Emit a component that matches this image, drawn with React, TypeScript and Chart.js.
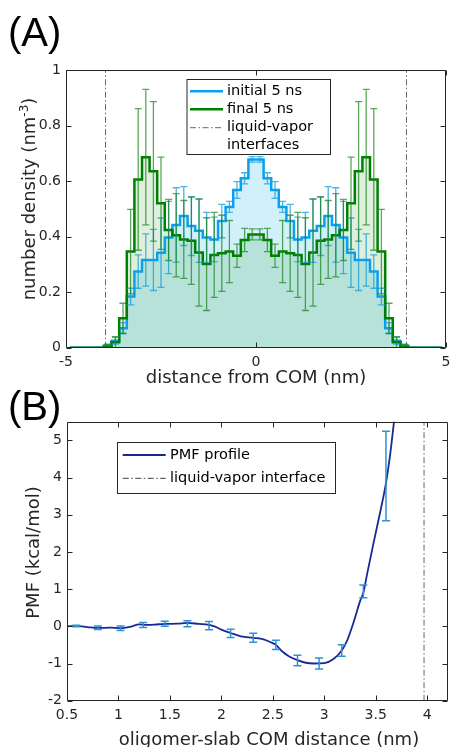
import React, { useEffect, useRef } from 'react';
import { Chart, registerables } from 'chart.js';

Chart.register(...registerables);

// ---------------- Panel A: number density profiles ----------------
const binCenters = [
  -4.9, -4.7, -4.5, -4.3, -4.1, -3.9, -3.7, -3.5, -3.3, -3.1, -2.9, -2.7, -2.5, -2.3, -2.1, -1.9, -1.7, -1.5, -1.3, -1.1, -0.9, -0.7, -0.5, -0.3, -0.1,
  0.1, 0.3, 0.5, 0.7, 0.9, 1.1, 1.3, 1.5, 1.7, 1.9, 2.1, 2.3, 2.5, 2.7, 2.9, 3.1, 3.3, 3.5, 3.7, 3.9, 4.1, 4.3, 4.5, 4.7, 4.9,
];
const initialDensity = [
  0, 0, 0, 0, 0, 0.005, 0.025, 0.07, 0.184, 0.274, 0.316, 0.316, 0.342, 0.397, 0.442, 0.474, 0.438, 0.421, 0.397, 0.39, 0.456, 0.507, 0.568, 0.61, 0.678,
  0.678, 0.61, 0.568, 0.507, 0.456, 0.39, 0.397, 0.421, 0.438, 0.474, 0.442, 0.397, 0.342, 0.316, 0.316, 0.274, 0.184, 0.07, 0.025, 0.005, 0, 0, 0, 0, 0,
];
const finalDensity = [
  0, 0, 0, 0, 0, 0.007, 0.02, 0.106, 0.346, 0.606, 0.686, 0.635, 0.52, 0.424, 0.405, 0.39, 0.385, 0.343, 0.301, 0.334, 0.34, 0.346, 0.331, 0.388, 0.408,
  0.408, 0.388, 0.331, 0.346, 0.34, 0.334, 0.301, 0.343, 0.385, 0.39, 0.405, 0.424, 0.52, 0.635, 0.686, 0.606, 0.346, 0.106, 0.02, 0.007, 0, 0, 0, 0, 0,
];
const initialError = [
  0, 0, 0, 0, 0, 0.005, 0.012, 0.02, 0.03, 0.06, 0.094, 0.11, 0.125, 0.13, 0.134, 0.106, 0.106, 0.114, 0.09, 0.08, 0.06, 0.02, 0.03, 0.02, 0.01,
  0.01, 0.02, 0.03, 0.02, 0.06, 0.08, 0.09, 0.114, 0.106, 0.106, 0.134, 0.13, 0.125, 0.11, 0.094, 0.06, 0.03, 0.02, 0.012, 0.005, 0, 0, 0, 0, 0,
];
const finalError = [
  0, 0, 0, 0, 0, 0.006, 0.02, 0.054, 0.152, 0.255, 0.244, 0.251, 0.166, 0.11, 0.15, 0.14, 0.157, 0.193, 0.167, 0.153, 0.137, 0.112, 0.042, 0.042, 0.02,
  0.02, 0.042, 0.042, 0.112, 0.137, 0.153, 0.167, 0.193, 0.157, 0.14, 0.15, 0.11, 0.166, 0.251, 0.244, 0.255, 0.152, 0.054, 0.02, 0.006, 0, 0, 0, 0, 0,
];
const interfacePositionsA = [-3.96, 3.96];
const densityRangeX = [-5, 5];
const densityRangeY = [0, 1];

// ---------------- Panel B: PMF profile ----------------
const pmfDistance = [
  0.5, 0.59, 0.7, 0.8, 0.92, 1.02, 1.12, 1.2, 1.27, 1.35, 1.45, 1.57, 1.67, 1.78, 1.88, 1.94, 2.0, 2.09, 2.19, 2.31, 2.41,
  2.48, 2.53, 2.59, 2.66, 2.74, 2.82, 2.9, 3.0, 3.09, 3.17, 3.22, 3.29, 3.35, 3.38, 3.42, 3.48, 3.55, 3.6, 3.64, 3.68, 3.72,
];
const pmfValue = [
  0.0, 0.01, -0.02, -0.045, -0.035, -0.05, -0.01, 0.05, 0.04, 0.045, 0.065, 0.07, 0.09, 0.065, 0.04, -0.01, -0.09, -0.18, -0.27, -0.31, -0.35,
  -0.43, -0.5, -0.67, -0.81, -0.91, -0.98, -1.0, -0.99, -0.88, -0.65, -0.4, 0.15, 0.69, 0.9, 1.45, 2.25, 3.15, 3.85, 4.6, 5.55, 6.6,
];
const pmfSampleDistance = [0.59, 0.8, 1.02, 1.24, 1.45, 1.67, 1.88, 2.09, 2.31, 2.53, 2.74, 2.95, 3.17, 3.38, 3.6];
const pmfSampleValue = [0.01, -0.04, -0.05, 0.035, 0.067, 0.07, 0.02, -0.19, -0.31, -0.5, -0.92, -1.0, -0.65, 0.94, 4.04];
const pmfSampleError = [0.02, 0.045, 0.06, 0.065, 0.067, 0.08, 0.11, 0.11, 0.12, 0.125, 0.14, 0.15, 0.155, 0.17, 1.2];
const interfacePositionB = 3.97;
const pmfRangeX = [0.5, 4.2];
const pmfRangeY = [-2, 5.5];

// ---------------- styling ----------------
const FONT = "'DejaVu Sans', 'Verdana', sans-serif";
const AXIS_COLOR = '#262626';
const BLUE = 'rgb(10,160,240)';
const GREEN = 'rgb(0,128,0)';
const DASH = [6, 2.5, 1.5, 2.5];

function fmt(v: any) {
  return String(Number(Number(v).toFixed(2)));
}

function axis(min: number, max: number, step: number, size: number, isX: boolean, pad: number) {
  return {
    type: 'linear',
    min,
    max,
    grid: { display: false, drawTicks: false },
    border: { display: false },
    ticks: {
      stepSize: step,
      includeBounds: false,
      padding: pad,
      color: AXIS_COLOR,
      font: { family: FONT, size: 14 },
      callback: fmt,
      maxRotation: 0,
      autoSkip: false,
    },
    afterFit: (s: any) => {
      if (isX) s.height = size;
      else s.width = size;
      s.paddingLeft = 0;
      s.paddingRight = 0;
      s.paddingTop = 0;
      s.paddingBottom = 0;
    },
  };
}

function framePlugin(tickLen: number) {
  return {
    id: 'frame',
    afterDatasetsDraw(chart: any) {
      const { ctx, chartArea: a, scales } = chart;
      const x = scales.x;
      const y = scales.y;
      ctx.save();
      ctx.strokeStyle = AXIS_COLOR;
      ctx.lineWidth = 1;
      const L = Math.round(a.left) + 0.5;
      const R = Math.round(a.right) - 0.5;
      const T = Math.round(a.top) + 0.5;
      const B = Math.round(a.bottom) - 0.5;
      ctx.beginPath();
      ctx.rect(L, T, R - L, B - T);
      x.ticks.forEach((t: any) => {
        const p = Math.round(x.getPixelForValue(t.value)) + 0.5;
        ctx.moveTo(p, B);
        ctx.lineTo(p, B - tickLen);
        ctx.moveTo(p, T);
        ctx.lineTo(p, T + tickLen);
      });
      y.ticks.forEach((t: any) => {
        const p = Math.round(y.getPixelForValue(t.value)) + 0.5;
        ctx.moveTo(L, p);
        ctx.lineTo(L + tickLen, p);
        ctx.moveTo(R, p);
        ctx.lineTo(R - tickLen, p);
      });
      ctx.stroke();
      ctx.restore();
    },
  };
}

type ErrSet = { xs: number[]; ys: number[]; errs: number[]; color: string; width: number; cap: number };
function errorBarPlugin(sets: ErrSet[]) {
  return {
    id: 'errorBars',
    afterDatasetsDraw(chart: any) {
      const { ctx, chartArea: a, scales } = chart;
      const x = scales.x;
      const y = scales.y;
      ctx.save();
      ctx.beginPath();
      ctx.rect(a.left, a.top, a.right - a.left, a.bottom - a.top);
      ctx.clip();
      sets.forEach((s) => {
        ctx.strokeStyle = s.color;
        ctx.lineWidth = s.width;
        ctx.beginPath();
        s.xs.forEach((xv, i) => {
          const e = s.errs[i];
          if (!e) return;
          const px = x.getPixelForValue(xv);
          const top = y.getPixelForValue(s.ys[i] + e);
          const bot = y.getPixelForValue(s.ys[i] - e);
          ctx.moveTo(px, top);
          ctx.lineTo(px, bot);
          ctx.moveTo(px - s.cap, top);
          ctx.lineTo(px + s.cap, top);
          ctx.moveTo(px - s.cap, bot);
          ctx.lineTo(px + s.cap, bot);
        });
        ctx.stroke();
      });
      ctx.restore();
    },
  };
}

type LegendItem = { label: string[]; color: string; width: number; dash?: number[] };
type LegendCfg = {
  x: number; y: number; w: number; h: number;
  rows: number[]; lineX0: number; lineX1: number; textX: number; lineGap: number;
  items: LegendItem[];
};
function legendPlugin(cfg: LegendCfg) {
  return {
    id: 'boxLegend',
    afterDraw(chart: any) {
      const ctx = chart.ctx;
      ctx.save();
      ctx.fillStyle = '#fff';
      ctx.fillRect(cfg.x, cfg.y, cfg.w, cfg.h);
      ctx.strokeStyle = '#262626';
      ctx.lineWidth = 1;
      ctx.strokeRect(cfg.x + 0.5, cfg.y + 0.5, cfg.w, cfg.h);
      ctx.font = `14.5px ${FONT}`;
      ctx.textBaseline = 'middle';
      ctx.textAlign = 'left';
      cfg.items.forEach((it, i) => {
        const yy = cfg.rows[i];
        ctx.strokeStyle = it.color;
        ctx.lineWidth = it.width;
        ctx.setLineDash(it.dash || []);
        ctx.beginPath();
        ctx.moveTo(cfg.lineX0, yy);
        ctx.lineTo(cfg.lineX1, yy);
        ctx.stroke();
        ctx.setLineDash([]);
        ctx.fillStyle = '#000';
        it.label.forEach((t, j) => ctx.fillText(t, cfg.textX, yy + j * cfg.lineGap));
      });
      ctx.restore();
    },
  };
}

type TitleCfg = {
  panel: string; panelX: number; panelY: number;
  xTitle: string; xTitleX: number; xTitleY: number;
  yTitle: string; ySup?: string; yTail?: string; yTitleX: number; yTitleY: number;
};
function titlePlugin(cfg: TitleCfg) {
  return {
    id: 'titles',
    afterDraw(chart: any) {
      const ctx = chart.ctx;
      ctx.save();
      ctx.fillStyle = '#000';
      ctx.textBaseline = 'alphabetic';
      ctx.font = `40px 'Liberation Sans', Arial, sans-serif`;
      ctx.textAlign = 'left';
      ctx.fillText(cfg.panel, cfg.panelX, cfg.panelY);

      ctx.fillStyle = AXIS_COLOR;
      ctx.font = `18px ${FONT}`;
      ctx.textAlign = 'center';
      ctx.fillText(cfg.xTitle, cfg.xTitleX, cfg.xTitleY);

      ctx.translate(cfg.yTitleX, cfg.yTitleY);
      ctx.rotate(-Math.PI / 2);
      ctx.textAlign = 'left';
      const mainFont = `18px ${FONT}`;
      const supFont = `12px ${FONT}`;
      ctx.font = mainFont;
      const w1 = ctx.measureText(cfg.yTitle).width;
      const w3 = cfg.yTail ? ctx.measureText(cfg.yTail).width : 0;
      ctx.font = supFont;
      const w2 = cfg.ySup ? ctx.measureText(cfg.ySup).width : 0;
      const total = w1 + w2 + w3;
      let cx = -total / 2;
      ctx.font = mainFont;
      ctx.fillText(cfg.yTitle, cx, 0);
      cx += w1;
      if (cfg.ySup) {
        ctx.font = supFont;
        ctx.fillText(cfg.ySup, cx, -7);
        cx += w2;
      }
      if (cfg.yTail) {
        ctx.font = mainFont;
        ctx.fillText(cfg.yTail, cx, 0);
      }
      ctx.restore();
    },
  };
}

function configA(): any {
  const pts = (vals: number[]) => binCenters.map((c, i) => ({ x: c, y: vals[i] }));
  const ifaceSets = interfacePositionsA.map((xv) => ({
    data: [{ x: xv, y: densityRangeY[0] }, { x: xv, y: densityRangeY[1] }],
    borderColor: '#666',
    borderWidth: 1,
    borderDash: DASH,
    pointRadius: 0,
    fill: false,
    order: 3,
  }));
  return {
    type: 'line',
    data: {
      datasets: [
        {
          label: 'initial 5 ns',
          data: pts(initialDensity),
          stepped: 'middle',
          borderColor: BLUE,
          borderWidth: 2.5,
          backgroundColor: 'rgba(0,170,230,0.18)',
          fill: 'origin',
          pointRadius: 0,
          order: 1,
        },
        {
          label: 'final 5 ns',
          data: pts(finalDensity),
          stepped: 'middle',
          borderColor: GREEN,
          borderWidth: 2.5,
          backgroundColor: 'rgba(0,128,0,0.13)',
          fill: 'origin',
          pointRadius: 0,
          order: 0,
        },
        ...ifaceSets,
      ],
    },
    options: {
      responsive: false,
      animation: false,
      layout: { padding: { top: 70, right: 5, left: 0, bottom: 0 } },
      plugins: {
        legend: { display: false },
        tooltip: { enabled: false },
        filler: { drawTime: 'beforeDatasetsDraw' },
      },
      scales: {
        x: axis(densityRangeX[0], densityRangeX[1], 5, 47.3, true, 6),
        y: axis(densityRangeY[0], densityRangeY[1], 0.2, 66, false, 5),
      },
    },
    plugins: [
      errorBarPlugin([
        { xs: binCenters, ys: initialDensity, errs: initialError, color: 'rgba(30,160,215,0.8)', width: 1.3, cap: 3.5 },
        { xs: binCenters, ys: finalDensity, errs: finalError, color: 'rgba(20,130,20,0.7)', width: 1.3, cap: 3.5 },
      ]),
      framePlugin(5),
      legendPlugin({
        x: 186.5, y: 79, w: 143.5, h: 75,
        rows: [91.3, 109.3, 127.7], lineX0: 190, lineX1: 223, textX: 227, lineGap: 18,
        items: [
          { label: ['initial 5 ns'], color: BLUE, width: 2.5 },
          { label: ['final 5 ns'], color: GREEN, width: 2.5 },
          { label: ['liquid-vapor', 'interfaces'], color: '#666', width: 1, dash: DASH },
        ],
      }),
      titlePlugin({
        panel: '(A)', panelX: 8, panelY: 46,
        xTitle: 'distance from COM (nm)', xTitleX: 256, xTitleY: 382.5,
        yTitle: 'number density (nm', ySup: '-3', yTail: ')', yTitleX: 35, yTitleY: 199,
      }),
    ],
  };
}

function configB(): any {
  return {
    type: 'line',
    data: {
      datasets: [
        {
          label: 'PMF profile',
          data: pmfDistance.map((d, i) => ({ x: d, y: pmfValue[i] })),
          borderColor: 'rgb(22,42,150)',
          borderWidth: 1.8,
          cubicInterpolationMode: 'monotone',
          pointRadius: 0,
          fill: false,
          order: 1,
        },
        {
          label: 'liquid-vapor interface',
          data: [{ x: interfacePositionB, y: pmfRangeY[0] }, { x: interfacePositionB, y: pmfRangeY[1] }],
          borderColor: '#666',
          borderWidth: 1,
          borderDash: DASH,
          pointRadius: 0,
          fill: false,
          order: 2,
        },
      ],
    },
    options: {
      responsive: false,
      animation: false,
      layout: { padding: { top: 36.7, right: 3.3, left: 0, bottom: 0 } },
      plugins: {
        legend: { display: false },
        tooltip: { enabled: false },
      },
      scales: {
        x: axis(pmfRangeX[0], pmfRangeX[1], 0.5, 46.3, true, 6),
        y: axis(pmfRangeY[0], pmfRangeY[1], 1, 67, false, 5),
      },
    },
    plugins: [
      errorBarPlugin([
        { xs: pmfSampleDistance, ys: pmfSampleValue, errs: pmfSampleError, color: 'rgb(45,145,215)', width: 1.5, cap: 4 },
      ]),
      framePlugin(5),
      legendPlugin({
        x: 117, y: 57, w: 218, h: 51,
        rows: [70, 93.3], lineX0: 122.7, lineX1: 165.7, textX: 170, lineGap: 18,
        items: [
          { label: ['PMF profile'], color: 'rgb(22,42,150)', width: 1.8 },
          { label: ['liquid-vapor interface'], color: '#666', width: 1.2, dash: DASH },
        ],
      }),
      titlePlugin({
        panel: '(B)', panelX: 8, panelY: 34.5,
        xTitle: 'oligomer-slab COM distance (nm)', xTitleX: 269, xTitleY: 360.4,
        yTitle: 'PMF (kcal/mol)', yTitleX: 39, yTitleY: 167.5,
      }),
    ],
  };
}

export default function App() {
  const refA = useRef<HTMLCanvasElement>(null);
  const refB = useRef<HTMLCanvasElement>(null);
  useEffect(() => {
    const a = new Chart(refA.current as HTMLCanvasElement, configA());
    const b = new Chart(refB.current as HTMLCanvasElement, configB());
    return () => {
      a.destroy();
      b.destroy();
    };
  }, []);
  return (
    <div style={{ position: 'absolute', left: 0, top: 0, width: 451, height: 747, background: '#fff', overflow: 'hidden' }}>
      <canvas ref={refA} width={451} height={395} style={{ position: 'absolute', left: 0, top: 0 }} />
      <canvas ref={refB} width={451} height={362} style={{ position: 'absolute', left: 0, top: 385 }} />
    </div>
  );
}
